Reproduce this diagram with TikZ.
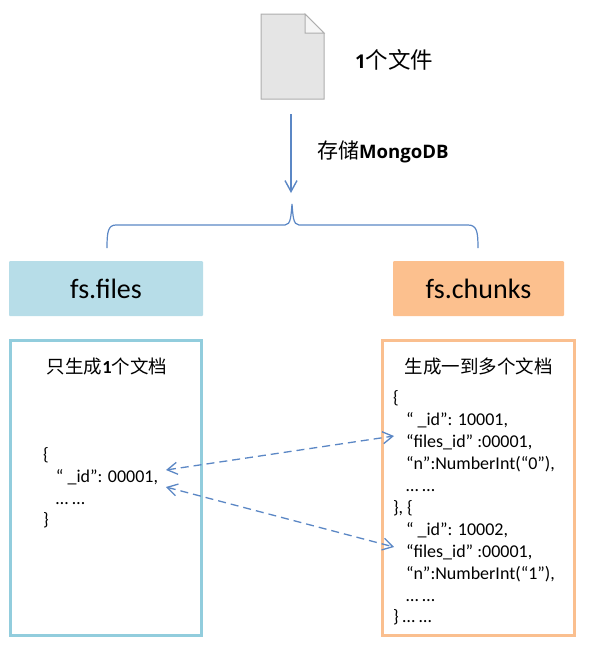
\documentclass[tikz,border=0pt]{standalone}
\usepackage{fontspec}
\setmainfont{Carlito}
\newfontfamily\cjk{Noto Sans CJK SC}
\newfontfamily\latbold{Open Sans Bold}
\usetikzlibrary{arrows.meta}
\definecolor{linkblue}{HTML}{5B87C5}
\definecolor{filesfill}{HTML}{B7DDE8}
\definecolor{chunksfill}{HTML}{FCC08E}
\definecolor{filesline}{HTML}{92CDDD}
\definecolor{chunksline}{HTML}{FABF8F}
\tikzset{
  every node/.style={inner sep=0pt,outer sep=0pt,text=black},
  header/.style={minimum height=55pt,rounded corners=1pt,font=\fontsize{28}{32}\selectfont},
  panel/.style={draw,line width=3pt,minimum height=295pt,fill=white},
  title/.style={font=\fontsize{18.5}{22}\selectfont},
  code/.style={anchor=base west,font=\fontsize{18}{21}\selectfont},
  link/.style={draw=linkblue,line width=1.3pt,dash pattern=on 8pt off 5pt,{Straight Barb[length=10pt,width=12pt,line width=1.3pt]}-{Straight Barb[length=10pt,width=12pt,line width=1.3pt]}},
}
\begin{document}
\begin{tikzpicture}[x=1pt,y=-1pt]
\useasboundingbox (0,0) rectangle (596,654);
% file icon
\draw[fill=black!10,draw=black!32,line width=1pt] (261,14) -- (305,14) -- (324,33) -- (324,99) -- (261,99) -- cycle;
\draw[fill=black!4,draw=black!32,line width=1pt] (305,14) -- (305,33) -- (324,33) -- cycle;
\node[anchor=base west,font=\fontsize{22.5}{26}\selectfont] (filelabel) at (355,68) {{\latbold\fontsize{19}{22}\selectfont 1}\cjk 个文件};
\coordinate (storetop) at (291,114);
\coordinate (storeend) at (291,193);
\coordinate (bracetip) at (292,204);
\coordinate (braceleft) at (107,248);
\coordinate (braceright) at (478,248);
\draw[draw=linkblue,line width=1.4pt,-{Straight Barb[length=11pt,width=12pt,line width=1.4pt]}] (storetop) -- (storeend);
\node[anchor=base west,font=\fontsize{21}{24}\selectfont] (storelabel) at (317,158) {{\cjk 存储}{\latbold\fontsize{18.6}{22}\selectfont MongoDB}};
\draw[draw=linkblue,line width=1.2pt] (braceleft) .. controls (107,232) and (108,225) .. (116,225)
  -- (285,225) .. controls (291,225) and (291,215) .. (bracetip)
  .. controls (293,215) and (293,225) .. (299,225)
  -- (468,225) .. controls (477,225) and (478,232) .. (braceright);
\node[header,fill=filesfill,minimum width=194pt] (files) at (106,288.5) {fs.files};
\node[header,fill=chunksfill,minimum width=171pt] (chunks) at (478.5,288.5) {fs.chunks};
\node[panel,draw=filesline,minimum width=191pt] (filespanel) at (106,487.5) {};
\node[panel,draw=chunksline,minimum width=192pt] (chunkspanel) at (478.5,487.5) {};
\node[title,anchor=base] (filestitle) at (107,373) {{\cjk 只生成}\textbf{1}{\cjk 个文档}};
\node[title,anchor=base] (chunkstitle) at (478.5,373) {\cjk 生成一到多个文档};
\foreach \nm/\xx/\yy/\tx in {
 a/43/460/{\{},
 b/56/482/{“ \_id”: 00001,},
 c/56/504/{… …},
 d/43/525/{\}},
 e/393/403/{\{},
 f/406/425/{“ \_id”: 10001,},
 g/406/447/{“files\_id” :00001,},
 h/406/469/{“n”:NumberInt(“0”),},
 i/406/491/{… …},
 j/393/513/{\}, \{},
 k/406/535/{“ \_id”: 10002,},
 l/406/557/{“files\_id” :00001,},
 m/406/579/{“n”:NumberInt(“1”),},
 n/406/601/{… …},
 o/393/622/{\} … …}}
 {\node[code] (code\nm) at (\xx,\yy) {\tx};}
\coordinate (la) at (166,470);
\coordinate (lb) at (166,487);
\coordinate (ra) at (394,436);
\coordinate (rb) at (394,547);
\draw[link] (la) -- (ra);
\draw[link] (lb) -- (rb);
\end{tikzpicture}
\end{document}
